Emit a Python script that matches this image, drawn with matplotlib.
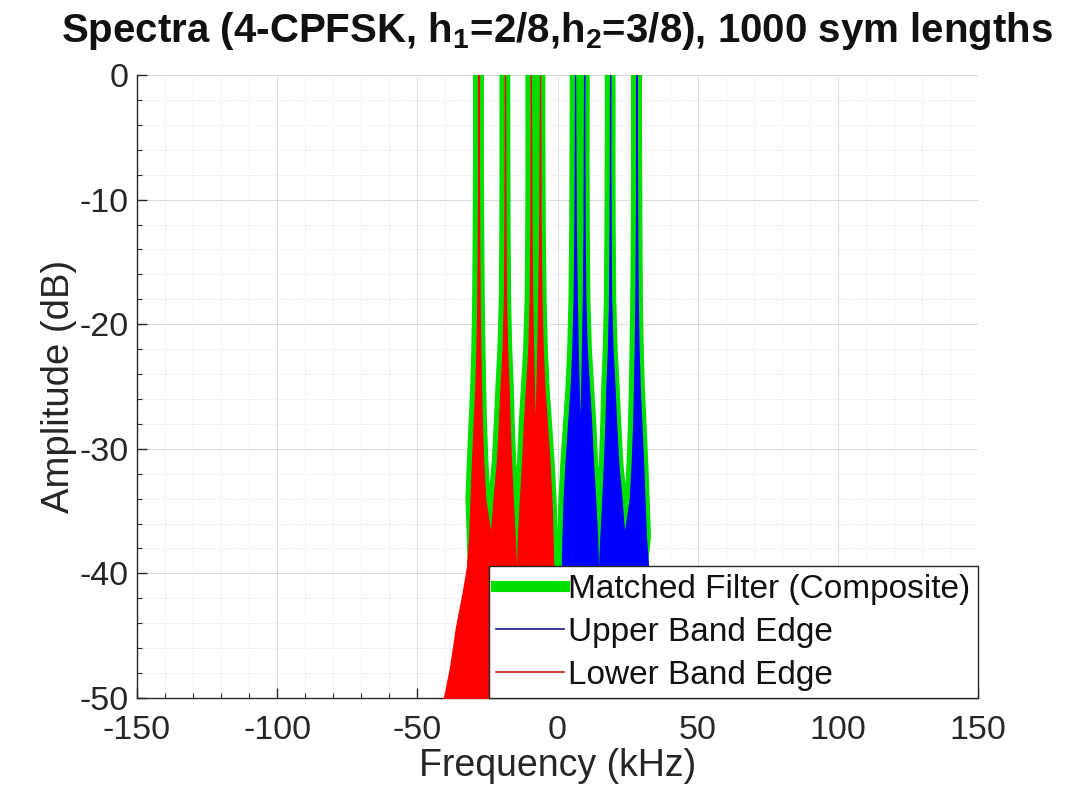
import numpy as np
import matplotlib
matplotlib.use("Agg")
import matplotlib.pyplot as plt
from matplotlib.lines import Line2D
from matplotlib.ticker import MultipleLocator

plt.rcParams['font.family'] = ['Liberation Sans', 'DejaVu Sans']
plt.rcParams['mathtext.fontset'] = 'custom'
plt.rcParams['mathtext.rm'] = 'Liberation Sans'
plt.rcParams['mathtext.bf'] = 'Liberation Sans:bold'
plt.rcParams['axes.unicode_minus'] = False

# Lower band edge spectrum envelope (kHz, dB)
lower_freq = [-40.5, -38.3, -36.2, -33.8, -32.3, -31.5, -31.0, -30.5, -29.9, -29.3,
              -28.9, -28.6, -28.4, -28.2, -28.0, -27.8, -27.55, -27.3, -27.0, -26.5,
              -25.8, -23.8, -22.8, -21.6, -20.9, -20.3, -19.6, -19.1, -18.9, -18.75,
              -18.6, -18.4, -18.0, -17.45, -17.1, -16.6, -16.0, -15.3, -14.6, -14.1,
              -13.4, -12.6, -12.0, -11.2, -10.4, -9.9, -9.65, -9.5, -9.3, -9.05,
              -8.75, -8.35, -8.0, -7.6, -7.2, -6.85, -6.5, -6.25, -6.05, -5.75,
              -5.3, -4.7, -3.8, -2.9, -2.2, -1.8, -1.5, -0.8, 0.3]
lower_db = [-50, -47.5, -44.3, -41.5, -39.5, -37, -34, -31, -28, -25,
            -22, -18, -12, 0, -12, -18, -22, -25, -28, -31,
            -34, -37, -34, -31, -28, -25, -22, -18, -12, 0,
            -12, -18, -22, -25, -28, -31, -34, -37, -41, -37,
            -34, -31, -28, -25, -22, -18, -12, 0, -12, -18,
            -22, -26, -29, -26, -22, -18, -12, 0, -12, -18,
            -22, -25, -28, -31, -34, -37, -40, -45, -50]

# Upper band edge spectrum envelope (kHz, dB)
upper_freq = [-0.3, 0.8, 1.5, 1.8, 2.2, 2.9, 3.8, 4.7, 5.3, 5.75,
              6.05, 6.25, 6.5, 6.85, 7.2, 7.6, 8.0, 8.35, 8.75, 9.05,
              9.3, 9.5, 9.65, 9.9, 10.4, 11.2, 12.0, 12.6, 13.4, 14.1,
              14.6, 15.3, 16.0, 16.6, 17.1, 17.45, 18.0, 18.4, 18.6, 18.75,
              18.9, 19.1, 19.6, 20.3, 20.9, 21.6, 22.8, 23.8, 25.8, 26.5,
              27.0, 27.3, 27.55, 27.8, 28.0, 28.2, 28.4, 28.6, 28.9, 29.3,
              29.9, 30.5, 31.0, 31.5, 32.3, 33.8, 36.2, 38.3, 40.5]
upper_db = [-50, -45, -40, -37, -34, -31, -28, -25, -22, -18,
            -12, 0, -12, -18, -22, -26, -29, -26, -22, -18,
            -12, 0, -12, -18, -22, -25, -28, -31, -34, -37,
            -41, -37, -34, -31, -28, -25, -22, -18, -12, 0,
            -12, -18, -22, -25, -28, -31, -34, -37, -34, -31,
            -28, -25, -22, -18, -12, 0, -12, -18, -22, -25,
            -28, -31, -34, -37, -39.5, -41.5, -44.3, -47.5, -50]

# Composite matched-filter spectrum: outer envelope of both bands,
# with steeper outer skirts and a deep null at DC
comp_left_freq = [-29.2, -30.1]
comp_left_db = [-50, -40]
comp_null_freq = [0.0]
comp_null_db = [-60]
comp_right_freq = [30.1, 29.2]
comp_right_db = [-40, -50]
composite_freq = (comp_left_freq + lower_freq[6:66] + comp_null_freq
                  + upper_freq[3:64] + comp_right_freq)
composite_db = (comp_left_db + lower_db[6:66] + comp_null_db
                + upper_db[3:64] + comp_right_db)

x_ticks = [-150, -100, -50, 0, 50, 100, 150]
y_ticks = [-50, -40, -30, -20, -10, 0]

green = '#00e000'
ink = '#262626'
fig = plt.figure(figsize=(10.79, 8.10), dpi=100)
ax = fig.add_axes([0.127, 0.1383, 0.7794, 0.7691])

ax.plot(composite_freq, composite_db, color=green, lw=7.5,
        solid_joinstyle='round', zorder=2)
ax.fill_between(lower_freq, lower_db, -60, color='#ff0000', lw=0.9,
                edgecolor='#ff0000', zorder=3)
ax.fill_between(upper_freq, upper_db, -60, color='#0000ff', lw=0.9,
                edgecolor='#0000ff', zorder=3)

ax.set_xlim(-150, 150)
ax.set_ylim(-50, 0)
ax.set_xticks(x_ticks)
ax.set_yticks(y_ticks)
ax.xaxis.set_minor_locator(MultipleLocator(10))
ax.yaxis.set_minor_locator(MultipleLocator(2))
ax.grid(which='major', color='#dadada', lw=0.7, ls='-')
ax.grid(which='minor', color='#e2e2e2', lw=0.7, ls=':')
ax.set_axisbelow(True)

for side in ('top', 'right'):
    ax.spines[side].set_visible(False)
for side in ('left', 'bottom'):
    ax.spines[side].set_color(ink)
    ax.spines[side].set_linewidth(1.0)

ax.tick_params(which='major', direction='in', length=7, width=1, colors=ink,
               labelsize=24.5, labelcolor=ink)
ax.tick_params(axis='x', which='major', pad=12)
ax.tick_params(axis='y', which='major', pad=6)
ax.tick_params(which='minor', direction='in', length=3.5, width=0.8, colors=ink)

ax.set_xlabel('Frequency (kHz)', fontsize=27, color=ink, labelpad=2)
ax.set_ylabel('Amplitude (dB)', fontsize=27.5, color=ink, labelpad=2)
ax.set_title(r'Spectra (4-CPFSK, h$_\mathbf{1}$=2/8,h$_\mathbf{2}$=3/8), 1000 sym lengths',
             fontsize=29, fontweight='bold', pad=24, color='#111111')

handles = [Line2D([], [], color=green, lw=8.0),
           Line2D([], [], color='#1a1a80', lw=1.2),
           Line2D([], [], color='#c0201a', lw=1.2)]
labels = ['Matched Filter (Composite)', 'Upper Band Edge', 'Lower Band Edge']
leg = ax.legend(handles, labels, loc='lower right', fontsize=24, frameon=True,
                fancybox=False, borderaxespad=0, handlelength=2.05,
                handletextpad=0.12, labelspacing=0.36, borderpad=0.22)
for txt in leg.get_texts():
    txt.set_color('#111111')
leg.get_frame().set_edgecolor(ink)
leg.get_frame().set_linewidth(1.0)
leg.get_frame().set_alpha(1)
leg.set_zorder(5)

fig.savefig('out.png', dpi=100)
